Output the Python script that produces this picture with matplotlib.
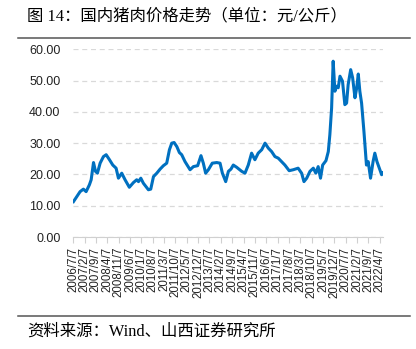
import matplotlib
matplotlib.use('Agg')
import matplotlib.pyplot as plt
from matplotlib.lines import Line2D

# pork price, yuan/kg
years = [2006.53, 2006.70, 2006.87, 2007.04, 2007.18, 2007.35, 2007.44, 2007.56, 2007.66, 2007.76,
         2007.90, 2008.07, 2008.21, 2008.38, 2008.55, 2008.72, 2008.84, 2009.01, 2009.18, 2009.40,
         2009.61, 2009.78, 2009.87, 2009.99, 2010.12, 2010.38, 2010.50, 2010.64, 2010.81, 2010.98,
         2011.15, 2011.32, 2011.46, 2011.58, 2011.70, 2011.84, 2011.97, 2012.09, 2012.26, 2012.52,
         2012.69, 2012.91, 2013.08, 2013.20, 2013.32, 2013.46, 2013.66, 2013.89, 2014.06, 2014.18,
         2014.35, 2014.49, 2014.62, 2014.74, 2014.91, 2015.17, 2015.34, 2015.51, 2015.68, 2015.85,
         2016.02, 2016.20, 2016.37, 2016.54, 2016.71, 2016.88, 2017.05, 2017.22, 2017.39, 2017.61,
         2017.82, 2018.07, 2018.25, 2018.37, 2018.51, 2018.68, 2018.85, 2018.98, 2019.10, 2019.22,
         2019.33, 2019.50, 2019.62, 2019.70, 2019.79, 2019.87, 2019.96, 2020.05, 2020.13, 2020.22,
         2020.35, 2020.47, 2020.56, 2020.64, 2020.77, 2020.87, 2020.99, 2021.08, 2021.16, 2021.24,
         2021.33, 2021.45, 2021.58, 2021.67, 2021.79, 2021.92, 2022.01, 2022.12, 2022.27, 2022.36,
         2022.42]
prices = [11.3, 12.9, 14.5, 15.3, 14.5, 16.7, 18.3, 23.8, 21.0, 20.4,
          23.6, 25.7, 26.3, 24.7, 23.0, 22.0, 18.8, 20.4, 18.3, 15.9,
          17.4, 18.3, 17.7, 18.8, 17.2, 15.1, 15.3, 19.3, 20.4, 21.7,
          22.8, 23.6, 27.9, 30.0, 30.2, 28.9, 27.0, 26.3, 24.1, 21.5,
          22.5, 22.8, 26.0, 23.6, 20.4, 21.5, 23.6, 23.8, 23.6, 20.4,
          17.7, 21.0, 21.7, 23.0, 22.3, 21.0, 20.4, 23.0, 26.8, 24.7,
          26.8, 27.9, 30.0, 28.4, 27.3, 25.7, 25.2, 24.1, 23.0, 21.2,
          21.5, 22.0, 20.4, 17.7, 18.8, 21.0, 22.0, 20.4, 22.5, 18.8,
          23.0, 24.4, 27.3, 32.7, 41.2, 56.2, 46.6, 48.2, 47.7, 51.4,
          49.8, 42.3, 42.8, 48.7, 53.5, 50.9, 44.5, 47.7, 52.1, 46.6,
          42.8, 33.8, 23.0, 24.1, 18.8, 24.1, 26.8, 24.1, 21.5, 19.9,
          20.5]

tick_dates = ['2006/7/7', '2007/2/7', '2007/9/7', '2008/4/7', '2008/11/7', '2009/6/7', '2010/1/7',
              '2010/8/7', '2011/3/7', '2011/10/7', '2012/5/7', '2012/12/7', '2013/7/7', '2014/2/7',
              '2014/9/7', '2015/4/7', '2015/11/7', '2016/6/7', '2017/1/7', '2017/8/7', '2018/3/7',
              '2018/10/7', '2019/5/7', '2019/12/7', '2020/7/7', '2021/2/7', '2021/9/7', '2022/4/7']
y_ticks = [0, 10, 20, 30, 40, 50, 60]

title = '图 14：国内猪肉价格走势（单位：元/公斤）'
source = '资料来源：Wind、山西证券研究所'


def to_year(s):
    y, m, d = (int(v) for v in s.split('/'))
    return y + (m - 1) / 12 + (d - 1) / 365


text_font = ['Liberation Serif', 'Noto Sans CJK SC']
plt.rcParams['font.family'] = ['Liberation Sans', 'DejaVu Sans']

fig = plt.figure(figsize=(4.16, 3.49), dpi=100)
ax = fig.add_axes([73 / 416, 1 - 237 / 349, 310 / 416, (237 - 49.3) / 349])

ax.plot(years, prices, color='#0070C0', linewidth=2.2, solid_joinstyle='round')

ax.set_ylim(0, 60)
ax.set_xlim(to_year('2006/7/7') - 0.01, 2022.43)
ax.set_yticks(y_ticks)
ax.set_yticklabels([f'{v:.2f}' for v in y_ticks], fontsize=9, color='#222222')
ax.set_xticks([to_year(s) for s in tick_dates])
ax.set_xticklabels(tick_dates, rotation=90, fontsize=8.3, color='#222222')
ax.tick_params(axis='y', length=0, pad=9)
ax.tick_params(axis='x', length=4, color='#d0d0d0', pad=3)

ax.grid(axis='y', linestyle=(0, (4, 3)), color='#d9d9d9', linewidth=0.9)
ax.set_axisbelow(True)
for side in ['left', 'right', 'top']:
    ax.spines[side].set_visible(False)
ax.spines['bottom'].set_color('#d0d0d0')

fig.text(27 / 416, 1 - 16 / 349, title, family=text_font, fontsize=11.8, va='center', ha='left')
fig.text(27 / 416, 1 - 332 / 349, source, family=text_font, fontsize=11.8, va='center', ha='left')
fig.add_artist(Line2D([18 / 416, 410 / 416], [1 - 37.7 / 349] * 2, color='#555555', linewidth=1.1))
fig.add_artist(Line2D([18 / 416, 410 / 416], [1 - 316 / 349] * 2, color='#555555', linewidth=1.1))

fig.savefig('out.png', dpi=100)
